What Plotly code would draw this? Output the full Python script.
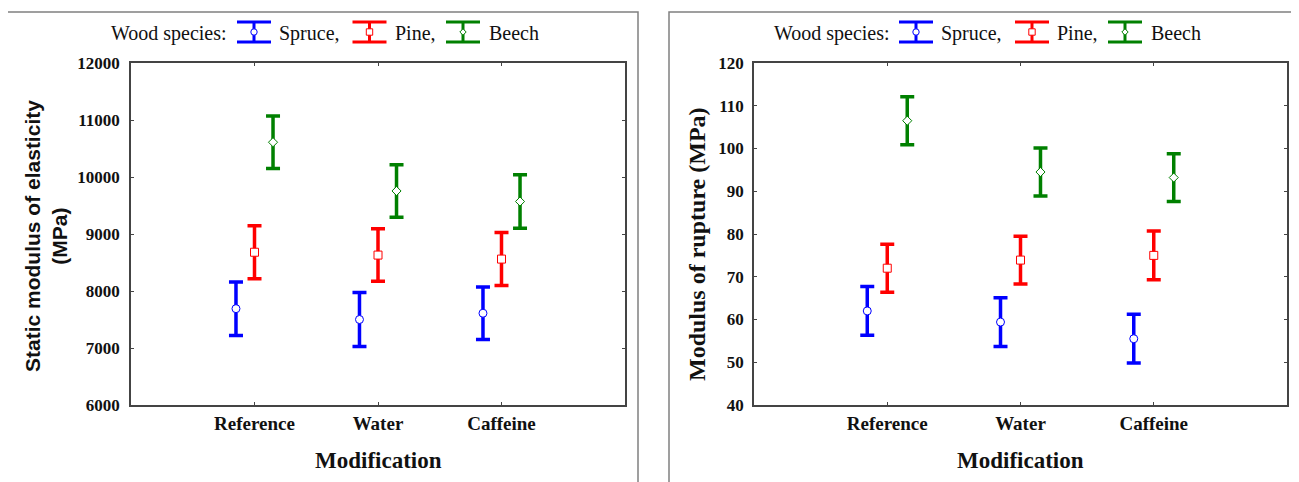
import plotly.graph_objects as go

# ---------------- data ----------------
categories = ["Reference", "Water", "Caffeine"]
species = ["Spruce", "Pine", "Beech"]

moe_spruce = [7690, 7500, 7610]
moe_spruce_err = [470, 475, 460]
moe_pine = [8680, 8630, 8560]
moe_pine_err = [465, 460, 465]
moe_beech = [10610, 9755, 9570]
moe_beech_err = [460, 462, 470]

mor_spruce = [62.0, 59.4, 55.5]
mor_spruce_err = [5.7, 5.7, 5.7]
mor_pine = [72.0, 73.9, 75.0]
mor_pine_err = [5.6, 5.6, 5.7]
mor_beech = [106.5, 94.5, 93.2]
mor_beech_err = [5.6, 5.6, 5.6]

moe_ticks = [6000, 7000, 8000, 9000, 10000, 11000, 12000]
mor_ticks = [40, 50, 60, 70, 80, 90, 100, 110, 120]

# ---------------- styles ----------------
OFF = 8                      # page body margin
W, H = 1299 - OFF, 482 - OFF
colors = {"Spruce": "#0000FF", "Pine": "#FF0000", "Beech": "#008000"}
symbols = {"Spruce": "circle", "Pine": "square", "Beech": "diamond"}
msize = {"Spruce": 8, "Pine": 8, "Beech": 7}
offsets = {"Spruce": -0.15, "Pine": 0.0, "Beech": 0.15}
SERIF = "Liberation Serif"
AXC = "#444444"


def px(x):
    return (x - OFF) / W


def py(y):
    return 1 - (y - OFF) / H


fig = go.Figure()

panels = [
    ("x", "y", {"Spruce": (moe_spruce, moe_spruce_err),
                "Pine": (moe_pine, moe_pine_err),
                "Beech": (moe_beech, moe_beech_err)}),
    ("x2", "y2", {"Spruce": (mor_spruce, mor_spruce_err),
                  "Pine": (mor_pine, mor_pine_err),
                  "Beech": (mor_beech, mor_beech_err)}),
]

for xa, ya, series in panels:
    for sp in species:
        vals, errs = series[sp]
        xs = [i + 1 + offsets[sp] for i in range(len(categories))]
        fig.add_trace(go.Scatter(
            x=xs, y=vals, xaxis=xa, yaxis=ya, mode="markers", name=sp,
            showlegend=False,
            marker=dict(symbol=symbols[sp], size=msize[sp], color="white",
                        line=dict(color=colors[sp], width=1)),
            error_y=dict(type="data", array=errs, visible=True,
                         color=colors[sp], thickness=3.5, width=7),
        ))

tick_y_font = dict(family=SERIF, size=17, color="#111", weight="bold")
tick_x_font = dict(family=SERIF, size=19, color="#111", weight="bold")
axis_common = dict(showline=True, linecolor=AXC, linewidth=1.5, mirror="ticks",
                   ticks="inside", ticklen=3, tickcolor=AXC, tickwidth=1,
                   showgrid=False, zeroline=False, automargin=False)

ydom = [py(405), py(63)]
fig.update_layout(
    width=W, height=H, margin=dict(l=0, r=0, t=0, b=0, autoexpand=False),
    paper_bgcolor="white", plot_bgcolor="white",
    xaxis=dict(domain=[px(131), px(625)], range=[0, 4], tickvals=[1, 2, 3],
               ticktext=categories, anchor="y", tickfont=tick_x_font, **axis_common),
    yaxis=dict(domain=ydom, range=[moe_ticks[0], moe_ticks[-1]], tickvals=moe_ticks,
               tickformat="d", anchor="x", tickfont=tick_y_font, ticklabelstandoff=6,
               **axis_common),
    xaxis2=dict(domain=[px(754), px(1287)], range=[0, 4], tickvals=[1, 2, 3],
                ticktext=categories, anchor="y2", tickfont=tick_x_font, **axis_common),
    yaxis2=dict(domain=ydom, range=[mor_ticks[0], mor_ticks[-1]], tickvals=mor_ticks,
                tickformat="d", anchor="x2", tickfont=tick_y_font, ticklabelstandoff=5,
                **axis_common),
)

shapes = []
annotations = []

# panel frames
shapes.append(dict(type="rect", xref="paper", yref="paper", x0=px(6.5), x1=px(638),
                   y0=-0.2, y1=py(12), line=dict(color="#808080", width=1.5)))
shapes.append(dict(type="rect", xref="paper", yref="paper", x0=px(669), x1=1.05,
                   y0=-0.2, y1=py(12), line=dict(color="#808080", width=1.5)))

# axis titles
annotations.append(dict(text="<b>Static modulus of elasticity<br>(MPa)</b>", x=px(46), y=py(236),
                        xref="paper", yref="paper", textangle=-90, showarrow=False,
                        xanchor="center", yanchor="middle",
                        font=dict(family="Liberation Sans", size=21, color="#111")))
annotations.append(dict(text="<b>Modulus of rupture (MPa)</b>", x=px(697), y=py(244),
                        xref="paper", yref="paper", textangle=-90, showarrow=False,
                        xanchor="center", yanchor="middle",
                        font=dict(family=SERIF, size=24, color="#111")))
for cx in (378, 1020):
    annotations.append(dict(text="<b>Modification</b>", x=px(cx), y=py(460),
                            xref="paper", yref="paper", showarrow=False,
                            xanchor="center", yanchor="middle",
                            font=dict(family=SERIF, size=23, color="#111")))

# custom legends (I-beam icons)
legend_layouts = [
    dict(title_right=229, icons={"Spruce": 254, "Pine": 369.5, "Beech": 463},
         labels={"Spruce": 277, "Pine": 393, "Beech": 487}),
    dict(title_right=892, icons={"Spruce": 916, "Pine": 1032, "Beech": 1125},
         labels={"Spruce": 939, "Pine": 1055, "Beech": 1149}),
]
label_text = {"Spruce": "Spruce,", "Pine": "Pine,", "Beech": "Beech"}
ly_top, ly_bot, ly_mid = 22, 42, 32
for lg in legend_layouts:
    annotations.append(dict(text="Wood species:", x=px(lg["title_right"]), y=py(33),
                            xref="paper", yref="paper", showarrow=False,
                            xanchor="right", yanchor="middle",
                            font=dict(family=SERIF, size=20, color="#111")))
    for sp in species:
        cx = lg["icons"][sp]
        c = colors[sp]
        hw = 17
        for yy in (ly_top, ly_bot):
            shapes.append(dict(type="line", xref="paper", yref="paper",
                               x0=px(cx - hw), x1=px(cx + hw), y0=py(yy), y1=py(yy),
                               line=dict(color=c, width=3)))
        shapes.append(dict(type="line", xref="paper", yref="paper",
                           x0=px(cx), x1=px(cx), y0=py(ly_top), y1=py(ly_bot),
                           line=dict(color=c, width=3)))
        r = 3.2
        if sp == "Spruce":
            shapes.append(dict(type="circle", xref="paper", yref="paper",
                               x0=px(cx - r), x1=px(cx + r), y0=py(ly_mid + r), y1=py(ly_mid - r),
                               fillcolor="white", line=dict(color=c, width=1)))
        elif sp == "Pine":
            shapes.append(dict(type="rect", xref="paper", yref="paper",
                               x0=px(cx - r), x1=px(cx + r), y0=py(ly_mid + r), y1=py(ly_mid - r),
                               fillcolor="white", line=dict(color=c, width=1)))
        else:
            d = 3.2
            path = (f"M {px(cx)} {py(ly_mid - d)} L {px(cx + d)} {py(ly_mid)} "
                    f"L {px(cx)} {py(ly_mid + d)} L {px(cx - d)} {py(ly_mid)} Z")
            shapes.append(dict(type="path", xref="paper", yref="paper", path=path,
                               fillcolor="white", line=dict(color=c, width=1)))
        annotations.append(dict(text=label_text[sp], x=px(lg["labels"][sp]), y=py(33),
                                xref="paper", yref="paper", showarrow=False,
                                xanchor="left", yanchor="middle",
                                font=dict(family=SERIF, size=20, color="#111")))

fig.update_layout(shapes=shapes, annotations=annotations)

fig.write_html("out.html")
